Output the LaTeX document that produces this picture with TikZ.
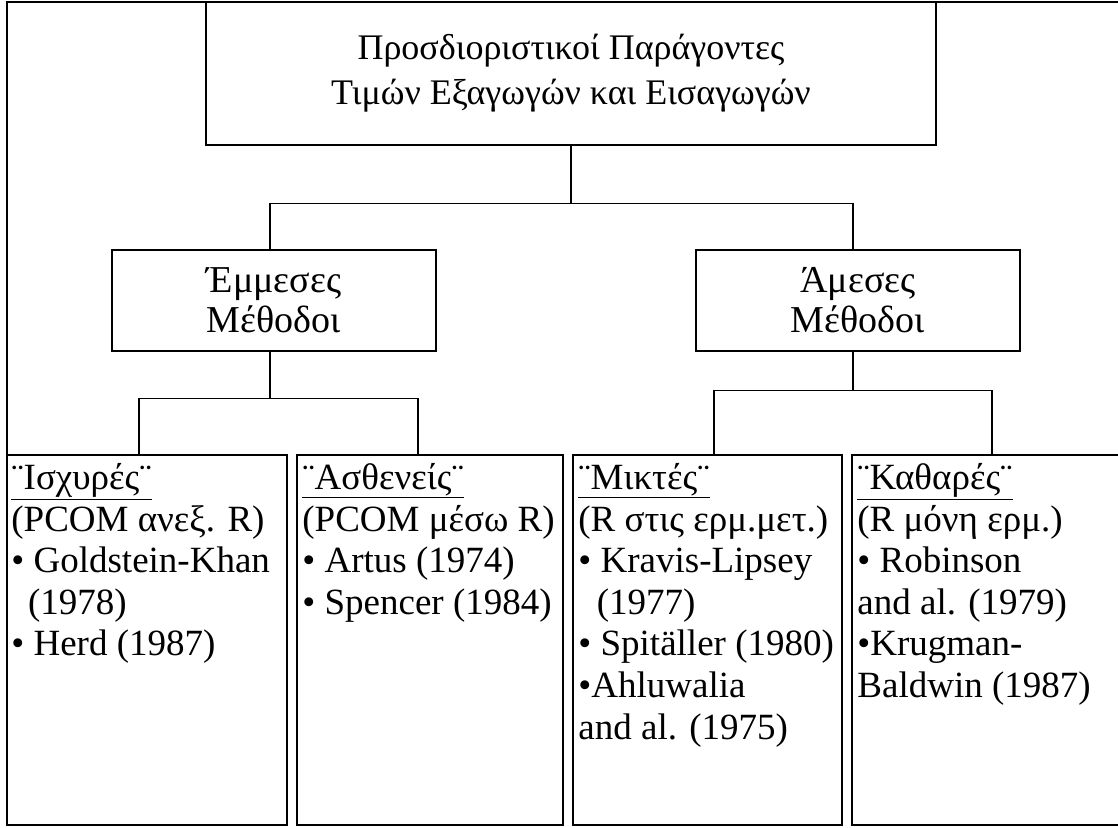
\documentclass[tikz,border=0pt]{standalone}
\usepackage{fontspec}
\setmainfont{Liberation Serif}
\usetikzlibrary{positioning}
\tikzset{
    titlebox/.style={rectangle, draw, line width=1.6pt, minimum width=730pt, minimum height=143pt, align=center, inner sep=0pt, font=\fontsize{36}{45}\selectfont},
    methodbox/.style={rectangle, draw, line width=1.6pt, minimum width=324pt, minimum height=101pt, align=center, inner sep=0pt, font=\fontsize{38}{40}\selectfont},
    listbox/.style={rectangle, draw, line width=1.6pt, minimum height=370pt, inner sep=0pt},
    listtext/.style={align=left, inner sep=0pt, font=\fontsize{37}{41.6}\selectfont},
    link/.style={line width=1.3pt}
}

\begin{document}
\begin{tikzpicture}[x=1pt, y=-1pt]
  \useasboundingbox (0,0) rectangle (1118,827);
  % frame
  \draw[link, line width=1.8pt] (7,826) -- (7,2) -- (1118,2);
  \node[titlebox] (title) at (571,73.5) {Προσδιοριστικοί Παράγοντες\\Τιμών Εξαγωγών και Εισαγωγών};
  \node[methodbox] (emm) at (274,300.5) {Έμμεσες\\Μέθοδοι};
  \node[methodbox] (ame) at (858,300.5) {Άμεσες\\Μέθοδοι};
  \node[listbox, minimum width=280pt] (isx) at (147,640) {};
  \node[listbox, minimum width=266pt] (asth) at (430,640) {};
  \node[listbox, minimum width=269pt] (mik) at (707.5,640) {};
  \node[listbox, minimum width=280pt] (kath) at (992,640) {};
  \node[listtext, below right=9pt and 5pt of isx.north west] (isxt)
    {\underline{¨Ισχυρές¨}\\(PCOM ανεξ. R)\\• Goldstein-Khan\\\hspace*{0.45em}(1978)\\• Herd (1987)};
  \node[listtext, below right=9pt and 6pt of asth.north west] (astht)
    {\underline{¨Ασθενείς¨}\\(PCOM μέσω R)\\• Artus (1974)\\• Spencer (1984)};
  \node[listtext, below right=9pt and 6pt of mik.north west] (mikt)
    {\underline{¨Μικτές¨}\\(R στις ερμ.μετ.)\\• Kravis-Lipsey\\\hspace*{0.5em}(1977)\\• Spitäller (1980)\\•Ahluwalia\\and al. (1975)};
  \node[listtext, below right=9pt and 6pt of kath.north west] (katht)
    {\underline{¨Καθαρές¨}\\(R μόνη ερμ.)\\• Robinson\\and al. (1979)\\•Krugman-\\Baldwin (1987)};
  % connectors
  \draw[link] (title.south) -- ++(0,58) -| ([xshift=-4pt]emm.north);
  \draw[link] (title.south) -- ++(0,58) -| ([xshift=-5pt]ame.north);
  \draw[link] ([xshift=-4pt]emm.south) -- ++(0,47) -| ([xshift=-8pt]isx.north);
  \draw[link] ([xshift=-4pt]emm.south) -- ++(0,47) -| ([xshift=-12pt]asth.north);
  \draw[link] ([xshift=-5pt]ame.south) -- ++(0,39) -| ([xshift=6.5pt]mik.north);
  \draw[link] ([xshift=-5pt]ame.south) -- ++(0,39) -| (kath.north);
\end{tikzpicture}
\end{document}
